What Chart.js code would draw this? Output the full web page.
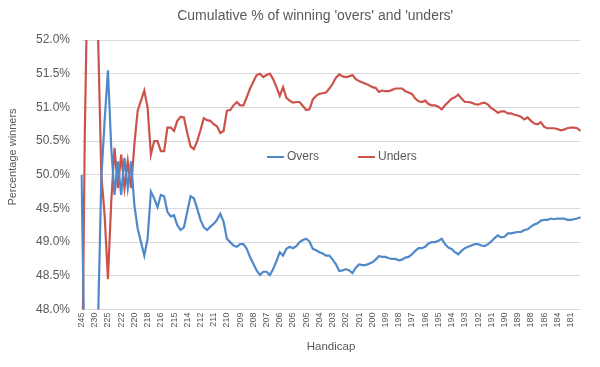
<!DOCTYPE html>
<html>
<head>
<meta charset="utf-8">
<script src="https://cdn.jsdelivr.net/npm/chart.js@4.4.1/dist/chart.umd.min.js"></script>
<style>
  html, body { margin: 0; padding: 0; background: #fff; }
</style>
</head>
<body>
<canvas id="chart" width="600" height="367"></canvas>
<script>
// handicap labels shown on the axis, one every 4 points
const tickLabels = ['245', '230', '225', '222', '220', '218', '216', '215', '214', '212',
  '211', '210', '209', '208', '207', '206', '205', '205', '204', '203',
  '202', '201', '200', '199', '198', '197', '196', '195', '194', '193',
  '192', '191', '190', '189', '188', '186', '184', '181'];
const labelStep = 4;

// cumulative % winners
const overs = [
  50.0, 47, 46, 46, 46, 47.8, 49.95, 50.8, 51.55, 50.4,
  49.7, 50.2, 49.7, 50.25, 49.8, 50.2, 49.55, 49.2, 49.0, 48.8,
  49.05, 49.75, 49.65, 49.52, 49.7, 49.68, 49.45, 49.38, 49.4, 49.25,
  49.18, 49.22, 49.45, 49.68, 49.65, 49.5, 49.33, 49.22, 49.18, 49.23,
  49.27, 49.33, 49.42, 49.3, 49.05, 49.0, 48.95, 48.93, 48.97, 48.97,
  48.9, 48.78, 48.68, 48.58, 48.51, 48.56, 48.56, 48.51, 48.6, 48.72,
  48.85, 48.8, 48.9, 48.93, 48.91, 48.94, 49.0, 49.03, 49.05, 49.01,
  48.9, 48.88, 48.85, 48.83, 48.8, 48.8, 48.74, 48.67, 48.57, 48.58,
  48.6, 48.58, 48.54, 48.62, 48.67, 48.66, 48.66, 48.68, 48.7, 48.74,
  48.79, 48.78, 48.78, 48.76, 48.75, 48.75, 48.73, 48.74, 48.77, 48.78,
  48.82, 48.87, 48.91, 48.91, 48.93, 48.98, 49.0, 49.0, 49.02, 49.05,
  48.97, 48.92, 48.9, 48.85, 48.82, 48.87, 48.91, 48.93, 48.95, 48.97,
  48.97, 48.95, 48.94, 48.97, 49.01, 49.06, 49.1, 49.07, 49.08, 49.13,
  49.13, 49.14, 49.15, 49.15, 49.18, 49.19, 49.23, 49.26, 49.28, 49.32,
  49.33, 49.33, 49.35, 49.34, 49.35, 49.35, 49.35, 49.33, 49.33, 49.34,
  49.35, 49.37
];
const unders = [
  46, 50.6, 53.5, 54, 54, 52.1, 50.0, 49.4, 48.45, 49.6,
  50.4, 49.8, 50.3, 49.8, 50.2, 49.8, 50.45, 50.95, 51.1, 51.25,
  51.0, 50.3, 50.5, 50.5, 50.35, 50.35, 50.7, 50.7, 50.65, 50.8,
  50.86, 50.85, 50.62, 50.42, 50.38, 50.5, 50.66, 50.84, 50.81, 50.8,
  50.75, 50.72, 50.62, 50.65, 50.95, 50.96, 51.03, 51.08, 51.03, 51.03,
  51.15, 51.28, 51.38, 51.48, 51.5, 51.45, 51.48, 51.5, 51.42, 51.3,
  51.17, 51.3, 51.14, 51.1, 51.07, 51.08, 51.08, 51.02, 50.96, 50.97,
  51.12, 51.17, 51.2, 51.21, 51.22, 51.28, 51.35, 51.44, 51.49, 51.46,
  51.45, 51.46, 51.48, 51.42, 51.39, 51.37, 51.35, 51.33, 51.3, 51.29,
  51.23, 51.25, 51.24, 51.24, 51.26, 51.28, 51.28, 51.28, 51.24, 51.22,
  51.2, 51.13, 51.09, 51.08, 51.1, 51.05, 51.03, 51.03, 51.01, 50.97,
  51.03, 51.08, 51.13, 51.15, 51.19, 51.13, 51.08, 51.08, 51.07, 51.05,
  51.04, 51.06, 51.07, 51.04, 50.99, 50.96, 50.92, 50.94, 50.94, 50.91,
  50.91, 50.89, 50.88, 50.86, 50.82, 50.85, 50.8, 50.76, 50.75, 50.78,
  50.71, 50.69, 50.69, 50.69, 50.68, 50.66, 50.67, 50.69, 50.7, 50.7,
  50.69, 50.65
];

const categories = overs.map((_, i) => i % labelStep === 0 ? (tickLabels[i / labelStep] || '') : '');

const FONT = "'Liberation Sans', Arial, sans-serif";
const GREY = '#595959';

// y title and the legend are placed by hand, like the excel original
const extras = {
  id: 'extras',
  afterLayout(chart) {
    // excel centres the title a bit right of the canvas middle
    chart.titleBlock.left += 10;
    chart.titleBlock.right += 10;
  },
  afterDraw(chart) {
    const ctx = chart.ctx;
    ctx.save();
    ctx.fillStyle = GREY;
    ctx.font = '11px ' + FONT;
    ctx.textAlign = 'center';
    ctx.textBaseline = 'middle';
    ctx.translate(13, 157);
    ctx.rotate(-Math.PI / 2);
    ctx.fillText('Percentage winners', 0, 0);
    ctx.restore();

    const spots = [267, 358];
    chart.data.datasets.forEach((ds, i) => {
      const x = spots[i], y = 157;
      ctx.save();
      ctx.strokeStyle = ds.borderColor;
      ctx.lineWidth = 2;
      ctx.beginPath();
      ctx.moveTo(x, y);
      ctx.lineTo(x + 17, y);
      ctx.stroke();
      ctx.fillStyle = GREY;
      ctx.font = '12px ' + FONT;
      ctx.textAlign = 'left';
      ctx.textBaseline = 'middle';
      ctx.fillText(ds.label, x + 20, y);
      ctx.restore();
    });
  }
};

new Chart(document.getElementById('chart'), {
  type: 'line',
  data: {
    labels: categories,
    datasets: [
      { label: 'Overs', data: overs, borderColor: '#4f89c9', borderWidth: 2.2, pointRadius: 0, tension: 0 },
      { label: 'Unders', data: unders, borderColor: '#cb534c', borderWidth: 2.2, pointRadius: 0, tension: 0 }
    ]
  },
  options: {
    responsive: false,
    animation: false,
    layout: { padding: { left: 30, right: 19.5, top: 0, bottom: 0 } },
    plugins: {
      legend: { display: false },
      tooltip: { enabled: false },
      title: {
        display: true,
        text: "Cumulative % of winning 'overs' and 'unders'",
        color: GREY,
        font: { family: FONT, size: 14, weight: 'normal' },
        padding: { top: 8, bottom: 15.2 }
      }
    },
    scales: {
      x: {
        grid: { display: false, drawTicks: false },
        border: { display: false },
        ticks: {
          autoSkip: false, maxRotation: 90, minRotation: 90, padding: 3,
          color: GREY, font: { family: FONT, size: 9 }
        },
        title: {
          display: true, text: 'Handicap', color: GREY,
          font: { family: FONT, size: 11.5 }, padding: { top: 0, bottom: 13.4 }
        },
        afterFit(scale) { scale.height = 57.5; }
      },
      y: {
        min: 48,
        max: 52,
        ticks: {
          stepSize: 0.5, padding: 11.5, color: GREY,
          font: { family: FONT, size: 12 },
          callback: v => v.toFixed(1) + '%'
        },
        grid: { color: '#d9d9d9', drawTicks: false },
        border: { display: false },
        afterFit(scale) { scale.width = 51.5; }
      }
    }
  },
  plugins: [extras]
});
</script>
</body>
</html>
